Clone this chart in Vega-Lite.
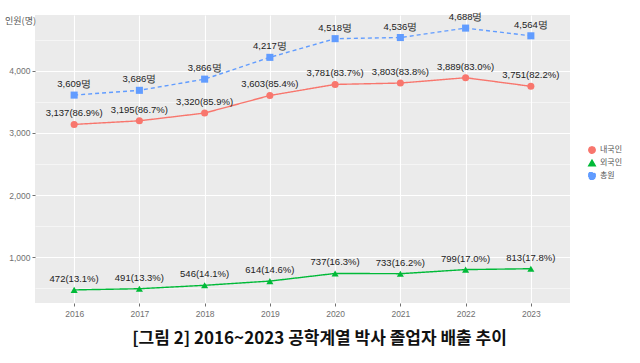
{
  "$schema": "https://vega.github.io/schema/vega-lite/v6.json",
  "width": 535,
  "height": 288,
  "autosize": {"type": "none"},
  "padding": {"left": 35, "top": 15, "right": 70, "bottom": 60},
  "background": "white",
  "config": {
    "font": "Liberation Sans",
    "view": {"fill": "#EBEBEB", "stroke": null}
  },
  "title": {
    "text": "[그림 2] 2016~2023 공학계열 박사 졸업자 배출 추이",
    "orient": "bottom",
    "anchor": "middle",
    "frame": "group",
    "font": "Noto Sans CJK KR",
    "fontSize": 17,
    "fontWeight": "bold",
    "color": "#111111",
    "offset": 13,
    "dx": 17
  },
  "data": {
    "values": [
      {"year": "2016", "group": "총원", "value": 3609, "label": "3,609명"},
      {"year": "2017", "group": "총원", "value": 3686, "label": "3,686명"},
      {"year": "2018", "group": "총원", "value": 3866, "label": "3,866명"},
      {"year": "2019", "group": "총원", "value": 4217, "label": "4,217명"},
      {"year": "2020", "group": "총원", "value": 4518, "label": "4,518명"},
      {"year": "2021", "group": "총원", "value": 4536, "label": "4,536명"},
      {"year": "2022", "group": "총원", "value": 4688, "label": "4,688명"},
      {"year": "2023", "group": "총원", "value": 4564, "label": "4,564명"},
      {"year": "2016", "group": "내국인", "value": 3137, "label": "3,137(86.9%)"},
      {"year": "2017", "group": "내국인", "value": 3195, "label": "3,195(86.7%)"},
      {"year": "2018", "group": "내국인", "value": 3320, "label": "3,320(85.9%)"},
      {"year": "2019", "group": "내국인", "value": 3603, "label": "3,603(85.4%)"},
      {"year": "2020", "group": "내국인", "value": 3781, "label": "3,781(83.7%)"},
      {"year": "2021", "group": "내국인", "value": 3803, "label": "3,803(83.8%)"},
      {"year": "2022", "group": "내국인", "value": 3889, "label": "3,889(83.0%)"},
      {"year": "2023", "group": "내국인", "value": 3751, "label": "3,751(82.2%)"},
      {"year": "2016", "group": "외국인", "value": 472, "label": "472(13.1%)"},
      {"year": "2017", "group": "외국인", "value": 491, "label": "491(13.3%)"},
      {"year": "2018", "group": "외국인", "value": 546, "label": "546(14.1%)"},
      {"year": "2019", "group": "외국인", "value": 614, "label": "614(14.6%)"},
      {"year": "2020", "group": "외국인", "value": 737, "label": "737(16.3%)"},
      {"year": "2021", "group": "외국인", "value": 733, "label": "733(16.2%)"},
      {"year": "2022", "group": "외국인", "value": 799, "label": "799(17.0%)"},
      {"year": "2023", "group": "외국인", "value": 813, "label": "813(17.8%)"}
    ]
  },
  "encoding": {
    "x": {
      "field": "year",
      "type": "ordinal",
      "scale": {"type": "point", "padding": 0.6},
      "axis": {
        "title": null,
        "labelAngle": 0,
        "labelFontSize": 8.5,
        "labelColor": "#707070",
        "tickColor": "#707070",
        "tickSize": 3,
        "labelPadding": 3,
        "domain": false,
        "grid": true,
        "gridColor": "#FFFFFF",
        "gridWidth": 1.1
      }
    },
    "y": {
      "field": "value",
      "type": "quantitative",
      "scale": {"domain": [261, 4899], "nice": false, "zero": false},
      "axis": {
        "values": [500, 1000, 1500, 2000, 2500, 3000, 3500, 4000, 4500],
        "labelExpr": "datum.value % 1000 === 0 ? format(datum.value, ',') : ''",
        "labelFontSize": 8.5,
        "labelColor": "#707070",
        "tickColor": "#707070",
        "tickSize": 3,
        "tickOpacity": {"condition": {"test": "datum.value % 1000 === 0", "value": 1}, "value": 0},
        "gridColor": "#FFFFFF",
        "gridWidth": {"condition": {"test": "datum.value % 1000 === 0", "value": 1.1}, "value": 0.5},
        "domain": false,
        "labelPadding": 2,
        "title": "인원(명)",
        "titleFont": "Noto Sans CJK KR",
        "titleFontSize": 9,
        "titleFontWeight": "normal",
        "titleColor": "#555555",
        "titleAngle": 0,
        "titleAlign": "center",
        "titleBaseline": "middle",
        "titleX": -15,
        "titleY": 5
      }
    }
  },
  "layer": [
    {
      "mark": {"type": "line", "strokeWidth": 1.4},
      "encoding": {
        "color": {
          "field": "group",
          "type": "nominal",
          "scale": {"domain": ["내국인", "외국인", "총원"], "range": ["#F8766D", "#00BA38", "#619CFF"]},
          "legend": {
            "title": null,
            "orient": "none",
            "legendX": 553,
            "legendY": 131,
            "labelFont": "Noto Sans CJK KR",
            "labelFontSize": 8,
            "labelColor": "#555555",
            "symbolSize": 40,
            "rowPadding": 0,
            "labelOffset": 4
          }
        },
        "strokeDash": {
          "field": "group",
          "type": "nominal",
          "scale": {"domain": ["내국인", "외국인", "총원"], "range": [[1, 0], [1, 0], [4, 3]]},
          "legend": null
        }
      }
    },
    {
      "mark": {"type": "point", "filled": true, "opacity": 1, "size": 50},
      "encoding": {
        "color": {
          "field": "group",
          "type": "nominal",
          "scale": {"domain": ["내국인", "외국인", "총원"], "range": ["#F8766D", "#00BA38", "#619CFF"]},
          "legend": {
            "title": null,
            "orient": "none",
            "legendX": 553,
            "legendY": 131,
            "labelFont": "Noto Sans CJK KR",
            "labelFontSize": 8,
            "labelColor": "#555555",
            "symbolSize": 40,
            "rowPadding": 0,
            "labelOffset": 4
          }
        },
        "shape": {
          "field": "group",
          "type": "nominal",
          "scale": {"domain": ["내국인", "외국인", "총원"], "range": ["circle", "triangle-up", "square"]}
        }
      }
    },
    {
      "mark": {"type": "text", "dy": -11, "fontSize": 9.5, "color": "#222222", "font": "Liberation Sans"},
      "encoding": {
        "text": {"field": "label", "type": "nominal"}
      }
    }
  ]
}
